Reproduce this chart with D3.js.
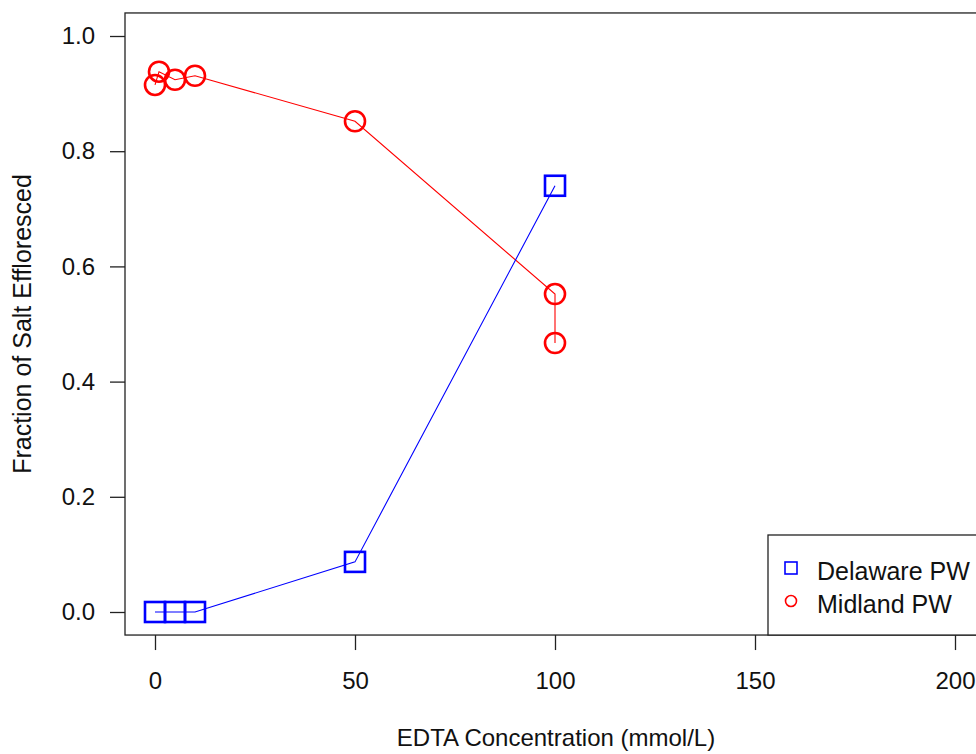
<!DOCTYPE html>
<html lang="en">
  <head>
    <meta charset="UTF-8" />
    <title>EDTA efflorescence</title>
    <style>
      body { margin: 0; background: #fff; }
      svg { display: block; font-family: 'Liberation Sans', Arial, sans-serif; }
    </style>
  </head>
  <body>
    <svg id="chart"></svg>
    <script src="https://cdn.jsdelivr.net/npm/d3@7"></script>
    <script>
      // data
      const delawareX = [0, 5, 10, 50, 100];
      const delawareY = [0, 0, 0, 0.087, 0.74];
      const midlandX = [0, 1, 5, 10, 50, 100, 100];
      const midlandY = [0.915, 0.938, 0.924, 0.931, 0.852, 0.552, 0.467];
      const xTicks = [0, 50, 100, 150, 200];
      const yTicks = [0, 0.2, 0.4, 0.6, 0.8, 1.0];
      const seriesNames = ['Delaware PW', 'Midland PW'];

      const width = 976;
      const height = 754;
      const svg = d3.select('#chart').attr('width', width).attr('height', height);

      let x = d3.scaleLinear().domain([0, 200]).range([155, 955]);
      let y = d3.scaleLinear().domain([0, 1]).range([612, 36]);

      // plot box (R style 4% extension)
      let box = { left: x(-7.5), right: x(208), top: y(1.04), bottom: y(-0.04) };

      let axisY = d3.axisLeft(y).tickValues(yTicks).tickSize(15).tickPadding(15)
        .tickFormat(d3.format('.1f'));
      let gy = svg.append('g').attr('transform', `translate(${box.left},0)`).call(axisY);
      gy.select('.domain').remove();

      let axisX = d3.axisBottom(x).tickValues(xTicks).tickSize(15).tickPadding(22)
        .tickFormat(d3.format('d'));
      let gx = svg.append('g').attr('transform', `translate(0,${box.bottom})`).call(axisX);
      gx.select('.domain').remove();

      svg.selectAll('.tick line').attr('stroke', '#222').attr('stroke-width', 1.3);
      svg.selectAll('.tick text').attr('fill', '#111').style('font-size', '24px');

      svg.append('rect')
        .attr('x', box.left).attr('y', box.top)
        .attr('width', box.right - box.left).attr('height', box.bottom - box.top)
        .attr('fill', 'none').attr('stroke', '#222').attr('stroke-width', 1.3);

      // axis titles
      svg.append('text')
        .attr('x', (box.left + box.right) / 2).attr('y', 746)
        .attr('text-anchor', 'middle').style('font-size', '24px').attr('fill', '#111')
        .text('EDTA Concentration (mmol/L)');
      svg.append('text')
        .attr('transform', `translate(31,${(box.top + box.bottom) / 2}) rotate(-90)`)
        .attr('text-anchor', 'middle').style('font-size', '25px').attr('fill', '#111')
        .text('Fraction of Salt Effloresced');

      let line = d3.line().x((d) => x(d[0])).y((d) => y(d[1]));
      let delaware = delawareX.map((v, i) => [v, delawareY[i]]);
      let midland = midlandX.map((v, i) => [v, midlandY[i]]);

      svg.append('path').attr('d', line(midland))
        .attr('fill', 'none').attr('stroke', '#ff0000').attr('stroke-width', 1.1);
      svg.append('path').attr('d', line(delaware))
        .attr('fill', 'none').attr('stroke', '#0000ff').attr('stroke-width', 1.1);

      let sq = 20;
      svg.selectAll('.sq').data(delaware).enter().append('rect')
        .attr('x', (d) => x(d[0]) - sq / 2).attr('y', (d) => y(d[1]) - sq / 2)
        .attr('width', sq).attr('height', sq)
        .attr('fill', 'none').attr('stroke', '#0000ff').attr('stroke-width', 2.6);

      svg.selectAll('.ci').data(midland).enter().append('circle')
        .attr('cx', (d) => x(d[0])).attr('cy', (d) => y(d[1])).attr('r', 10)
        .attr('fill', 'none').attr('stroke', '#ff0000').attr('stroke-width', 2.6);

      // legend, bottom right
      let lg = svg.append('g');
      lg.append('rect')
        .attr('x', 768).attr('y', 535).attr('width', box.right - 768).attr('height', box.bottom - 535)
        .attr('fill', '#fff').attr('stroke', '#222').attr('stroke-width', 1.3);
      lg.append('rect')
        .attr('x', 785).attr('y', 562).attr('width', 12).attr('height', 12)
        .attr('fill', 'none').attr('stroke', '#0000ff').attr('stroke-width', 1.6);
      lg.append('circle')
        .attr('cx', 791).attr('cy', 601).attr('r', 5.5)
        .attr('fill', 'none').attr('stroke', '#ff0000').attr('stroke-width', 1.6);
      lg.selectAll('.lt').data(seriesNames).enter().append('text')
        .attr('x', 817).attr('y', (d, i) => 580 + i * 33)
        .style('font-size', '25px').attr('fill', '#111')
        .text((d) => d);
    </script>
  </body>
</html>
